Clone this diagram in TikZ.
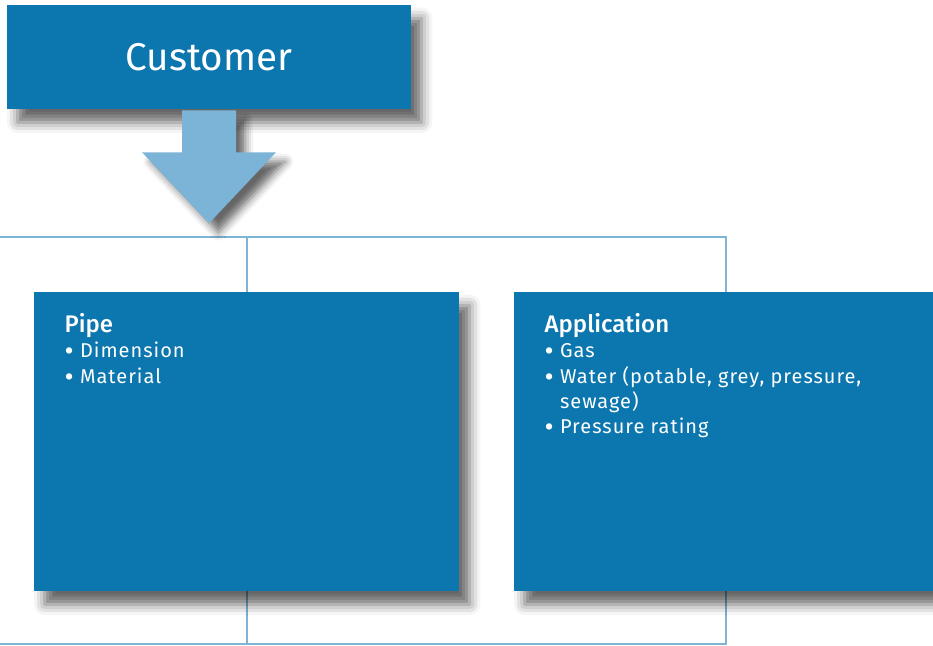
\documentclass[tikz,border=0pt]{standalone}
\usepackage{fontspec}
\setmainfont{Fira Sans}[BoldFont={Fira Sans Medium}]
\usetikzlibrary{
backgrounds,
calc,
positioning,
shadows,
shadows.blur
}
\tikzset{>=latex}
\definecolor{boxblue}{RGB}{12,118,174}
\definecolor{arrowblue}{RGB}{123,180,214}
\definecolor{lineblue}{RGB}{126,180,212}
\newcommand{\listdot}{\raisebox{-2.2pt}{\fontsize{21}{19}\selectfont\textbullet}\ }
\newcommand{\listhead}[1]{{\bfseries\fontsize{18}{19}\selectfont\addfontfeatures{LetterSpace=0}#1}}

\begin{document}
\begin{tikzpicture}[x=0.75pt, y=-0.75pt,
		box/.style={fill=boxblue, inner sep=0pt, blur shadow={shadow xshift=8pt, shadow yshift=-10pt, shadow blur radius=8pt, shadow opacity=60}},
		link/.style={draw=lineblue, line width=1.5pt},
		itemtext/.style={text=white, align=left, inner sep=0pt, font=\fontsize{15}{19}\selectfont\addfontfeatures{LetterSpace=5}}]
		\useasboundingbox (0,0) rectangle (933,646);
		\node[box, minimum width=303pt, minimum height=78pt, text=white, font=\fontsize{29}{30}\selectfont] (customer) at (209,57) {Customer};
		\node[box, minimum width=318.75pt, minimum height=224.25pt] (pipe) at (246.5,441.5) {};
		\node[box, minimum width=318pt, minimum height=224.25pt] (application) at (726,441.5) {};
		
		\node[itemtext, below right=16pt and 23pt of pipe.north west] (pipetext) {\listhead{Pipe}\\ \listdot Dimension\\ \listdot Material};
		\node[itemtext, below right=16pt and 23pt of application.north west] (applicationtext) {\listhead{Application}\\ \listdot Gas\\ \listdot Water (potable, grey, pressure,\\ \phantom{\listdot}sewage)\\ \listdot Pressure rating};
		
		% arrow below the customer
		\begin{scope}[shift={(customer.south)}]
			\fill[arrowblue, blur shadow={shadow xshift=7pt, shadow yshift=-7pt, shadow blur radius=6pt, shadow opacity=60}] (-27,1) -- (27,1) -- (27,43) -- (67,43) -- (0,114) -- (-67,43) -- (-27,43) -- cycle;
		\end{scope}
		
		\begin{scope}[on background layer]
			\coordinate (top) at (0,236.5);
			\coordinate (bottom) at (0,644);
			\draw[link] (top) -- (top -| application.north) -- (application.north);
			\draw[link] (top -| pipe.north) -- (pipe.north);
			\draw[link] (bottom) -- (bottom -| application.south) -- (application.south);
			\draw[link] (bottom -| pipe.south) -- (pipe.south);
		\end{scope}
	\end{tikzpicture}
\end{document}
